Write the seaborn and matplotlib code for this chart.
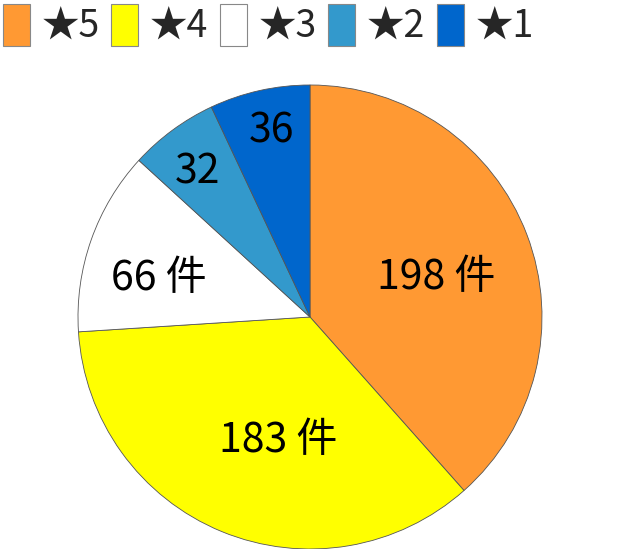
import numpy as np
import seaborn as sns
import matplotlib.pyplot as plt
from matplotlib.patches import Patch

# data
ratings = ['★5', '★4', '★3', '★2', '★1']
counts = [198, 183, 66, 32, 36]
slice_labels = ['198 件', '183 件', '66 件', '32', '36']
colors = ['#FF9933', '#FFFF00', '#FFFFFF', '#3399CC', '#0066CC']

# where each label sits inside its wedge (fraction of radius, angle tweak in deg)
label_radius = [0.57, 0.55, 0.67, 0.79, 0.82]
label_shift = [-3.6, 7.8, 5.2, 1.6, -0.8]

sns.set_theme(style='white')
plt.rcParams['font.family'] = ['Noto Sans CJK JP', 'DejaVu Sans']

W, H = 640, 549
fig = plt.figure(figsize=(W / 100, H / 100), dpi=100)

# pie centre ~(310, 317) px, radius ~232 px
cx, cy, r = 310, 317, 232
ax = fig.add_axes([(cx - r) / W, (H - cy - r) / H, 2 * r / W, 2 * r / H])

wedges, _ = ax.pie(counts, colors=colors, startangle=90, counterclock=False,
                   radius=1,
                   wedgeprops=dict(edgecolor='#555555', linewidth=0.6))
ax.set_xlim(-1, 1)
ax.set_ylim(-1, 1)
ax.set_aspect('equal')
ax.axis('off')

for w, txt, rad, sh in zip(wedges, slice_labels, label_radius, label_shift):
    theta = np.deg2rad((w.theta1 + w.theta2) / 2 + sh)
    ax.text(rad * np.cos(theta), rad * np.sin(theta), txt,
            ha='center', va='center', fontsize=29.5, color='black')

handles = [Patch(facecolor=c, edgecolor='#888888', linewidth=0.8) for c in colors]
fig.legend(handles, ratings, loc='upper left', bbox_to_anchor=(0.004, 0.993),
           ncol=5, frameon=False, fontsize=27,
           handlelength=0.72, handleheight=1.36, handletextpad=0.32,
           columnspacing=0.3, borderpad=0, borderaxespad=0)

fig.savefig('out.png', dpi=100)
